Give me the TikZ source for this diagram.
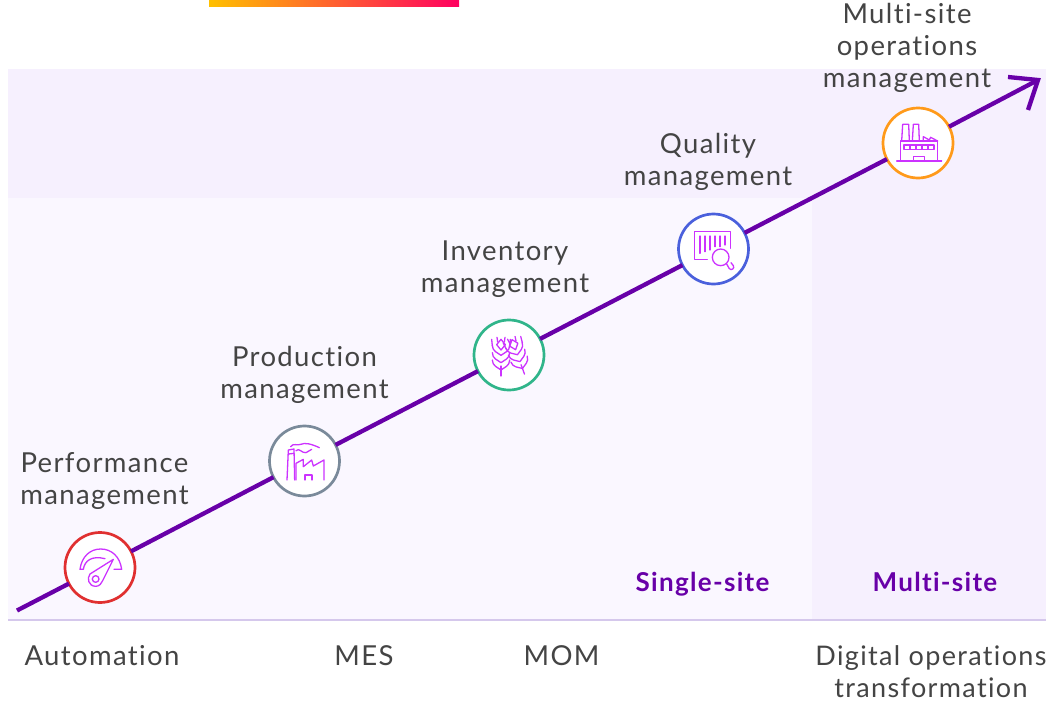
\documentclass[tikz,border=0pt]{standalone}
\usepackage{fontspec}
\setmainfont[Ligatures=NoCommon,LetterSpace=5]{Lato}
\definecolor{bgA}{HTML}{F6F0FE}
\definecolor{bgB}{HTML}{FAF7FF}
\definecolor{rulec}{HTML}{D5C8EC}
\definecolor{pur}{HTML}{6800A8}
\definecolor{ic}{HTML}{CC33FF}
\definecolor{txt}{HTML}{444444}
\definecolor{cred}{HTML}{E03030}
\definecolor{cgray}{HTML}{7A8A9A}
\definecolor{cgreen}{HTML}{30B58A}
\definecolor{cblue}{HTML}{4A60DC}
\definecolor{corange}{HTML}{FF9A1A}
\newcommand{\wheatear}{%
  \draw[icon] (0,60)--(0,30);
  \foreach \yy in {30,8,-14}{
    \draw[icon] (-26,\yy-18) .. controls (-26,\yy) and (-10,\yy+4) .. (0,\yy+12) .. controls (10,\yy+4) and (26,\yy) .. (26,\yy-18);
  }
  \draw[icon] (0,-50)--(-13,-34)--(0,-18)--(13,-34)--cycle;
  \draw[icon] (-28,-50)--(-26,-30) (28,-50)--(26,-30) (-12,-56)--(-10,-42) (12,-56)--(10,-42);
}
\tikzset{
  x=1pt,y=-1pt,
  lbl/.style={font=\fontsize{27.5}{32}\selectfont,text=txt,align=center,inner sep=0pt},
  site/.style={font=\fontsize{26}{30}\selectfont\bfseries,text=pur,inner sep=0pt,anchor=base},
  stepc/.style={circle,draw=#1,line width=2.7pt,fill=white,minimum size=70pt,inner sep=0pt,outer sep=0pt},
  conn/.style={draw=pur,line width=4.3pt},
  icon/.style={draw=ic,line width=1.3pt,line join=round,line cap=round},
}
\begin{document}
\begin{tikzpicture}
\useasboundingbox (0,0) rectangle (1046,707);
\fill[white] (0,0) rectangle (1046,707);
\shade[left color={rgb,255:red,255;green,192;blue,0},right color={rgb,255:red,255;green,0;blue,96}] (209,0) rectangle (459,6);
\fill[bgA] (8,69) rectangle (1046,198);
\fill[bgB] (8,198) rectangle (812,620);
\fill[bgA] (812,198) rectangle (1046,620);
\draw[rulec,line width=1.2pt] (8,620)--(1046,620);

\coordinate (start) at (17,610.5);
\coordinate (tip) at (1038,80);
\coordinate (armA) at (1008,77);
\coordinate (armB) at (1028,110);
\node[stepc=cred] (c1) at (100,567.5) {};
\node[stepc=cgray] (c2) at (304.5,461) {};
\node[stepc=cgreen] (c3) at (509,355) {};
\node[stepc=cblue] (c4) at (713.5,249) {};
\node[stepc=corange] (c5) at (918,143) {};
\draw[conn] (start)--(c1);
\draw[conn] (c1)--(c2);
\draw[conn] (c2)--(c3);
\draw[conn] (c3)--(c4);
\draw[conn] (c4)--(c5);
\draw[conn] (c5)--(tip);
\draw[conn,line join=miter] (armA)--(tip)--(armB);

% gauge
\begin{scope}[shift={(40,430)},scale=1/3]
\draw[icon] (222,418)--(245,418) .. controls (240,380) and (215,357) .. (182,357) .. controls (150,357) and (125,380) .. (120,418)--(130,418) .. controls (134,392) and (155,376) .. (195,386);
\draw[icon] (220,388)--(150,432) .. controls (140,445) and (145,468) .. (167,469) .. controls (178,469) and (185,460) .. (188,452)--cycle;
\draw[icon] (167,447) circle[radius=10];
\end{scope}
% plant
\begin{scope}[shift={(40,430)},scale=1/3]
\draw[icon] (741,150)--(745,60)--(762,57)--(764,150);
\draw[icon] (746,72)--(762,70);
\draw[icon] (768,150)--(768,100)--(790,88)--(790,110)--(815,90)--(820,108)--(852,90)--(852,150);
\draw[icon] (795,150)--(795,135)--(816,135)--(816,150);
\draw[icon] (752,50) .. controls (760,38) and (772,48) .. (782,43) .. controls (795,37) and (815,42) .. (838,53);
\draw[icon] (768,62) .. controls (778,52) and (785,70) .. (798,68) .. controls (805,68) and (808,58) .. (815,58);
\end{scope}
% wheat
\begin{scope}[shift={(450,200)},scale=1/3]
\begin{scope}[shift={(153,468)}]\wheatear\end{scope}
\begin{scope}[shift={(203,466)},rotate=20]\wheatear\end{scope}
\end{scope}
% barcode
\begin{scope}[shift={(450,200)},scale=1/3]
\draw[icon] (841,145)--(841,95)--(733,95)--(733,178)--(772,178);
\draw[icon] (750,108)--(750,160) (765,108)--(765,155) (780,108)--(780,150) (795,108)--(795,140) (810,108)--(810,140) (825,108)--(825,135);
\draw[icon] (812,172) circle[radius=25];
\draw[icon] (830,192)--(838,206) .. controls (844,213) and (855,205) .. (850,197)--(843,188);
\end{scope}
% factory
\begin{scope}[shift={(860,60)},scale=1/3]
\draw[icon] (110,303)--(245,303);
\draw[icon] (122,303)--(122,243)--(233,243)--(233,303);
\draw[icon] (125,243)--(128,193)--(146,193)--(148,243);
\draw[icon] (157,243)--(160,193)--(176,193)--(178,243);
\draw[icon] (190,243)--(190,230)--(208,240)--(212,232)--(233,243);
\draw[icon] (132,255) rectangle (222,268);
\draw[icon] (150,255)--(150,268) (168,255)--(168,268) (186,255)--(186,268) (204,255)--(204,268);
\draw[icon] (160,303)--(160,290)--(193,290)--(193,303);
\end{scope}

\node[lbl] (l1) at (104.5,481) {Performance\\management};
\node[lbl] (l2) at (304.5,375) {Production\\management};
\node[lbl] (l3) at (505,269) {Inventory\\management};
\node[lbl] (l4) at (708,162) {Quality\\management};
\node[lbl] (l5) at (907,47.5) {Multi-site\\operations\\management};
\node[site] (s1) at (702.5,591) {Single-site};
\node[site] (s2) at (935,591) {Multi-site};
\node[lbl,anchor=base] (a1) at (102,665) {Automation};
\node[lbl,anchor=base] (a2) at (364,665) {MES};
\node[lbl,anchor=base] (a3) at (561.5,665) {MOM};
\node[lbl,font=\fontsize{27}{32}\selectfont] (a4) at (931,672) {Digital operations\\transformation};
\end{tikzpicture}
\end{document}
